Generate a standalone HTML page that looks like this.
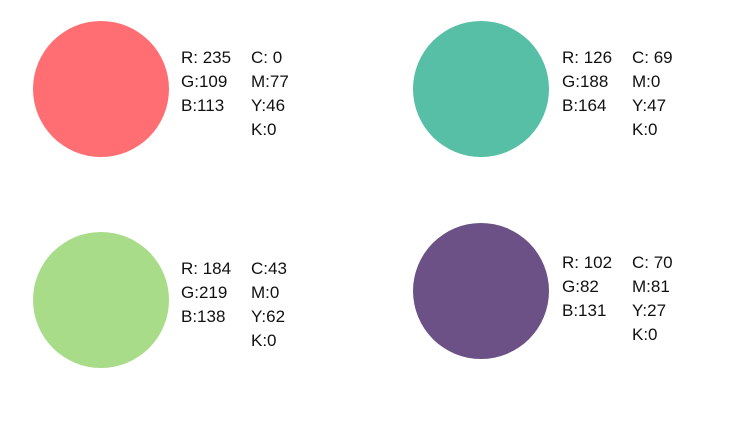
<!DOCTYPE html>
<html><head><meta charset="utf-8"><style>
html,body{margin:0;padding:0;background:#fff;}
svg{display:block;}
text{font-family:"Liberation Sans",sans-serif;font-size:17px;fill:#111;}
</style></head><body>
<svg width="755" height="430" viewBox="0 0 755 430">
<g>
<circle cx="101" cy="89" r="68" fill="#fe6e72"/>
<text x="181" y="63"><tspan x="181">R: 235</tspan><tspan x="181" dy="24">G:109</tspan><tspan x="181" dy="24">B:113</tspan></text>
<text x="251" y="63"><tspan x="251">C: 0</tspan><tspan x="251" dy="24">M:77</tspan><tspan x="251" dy="24">Y:46</tspan><tspan x="251" dy="24">K:0</tspan></text>
</g>
<g>
<circle cx="481" cy="89" r="68" fill="#57bfa6"/>
<text x="562" y="63"><tspan x="562">R: 126</tspan><tspan x="562" dy="24">G:188</tspan><tspan x="562" dy="24">B:164</tspan></text>
<text x="632" y="63"><tspan x="632">C: 69</tspan><tspan x="632" dy="24">M:0</tspan><tspan x="632" dy="24">Y:47</tspan><tspan x="632" dy="24">K:0</tspan></text>
</g>
<g>
<circle cx="101" cy="300" r="68" fill="#a9dc88"/>
<text x="181" y="274"><tspan x="181">R: 184</tspan><tspan x="181" dy="24">G:219</tspan><tspan x="181" dy="24">B:138</tspan></text>
<text x="251" y="274"><tspan x="251">C:43</tspan><tspan x="251" dy="24">M:0</tspan><tspan x="251" dy="24">Y:62</tspan><tspan x="251" dy="24">K:0</tspan></text>
</g>
<g>
<circle cx="481" cy="291" r="68" fill="#6b5185"/>
<text x="562" y="268"><tspan x="562">R: 102</tspan><tspan x="562" dy="24">G:82</tspan><tspan x="562" dy="24">B:131</tspan></text>
<text x="632" y="268"><tspan x="632">C: 70</tspan><tspan x="632" dy="24">M:81</tspan><tspan x="632" dy="24">Y:27</tspan><tspan x="632" dy="24">K:0</tspan></text>
</g>
</svg>
</body></html>
